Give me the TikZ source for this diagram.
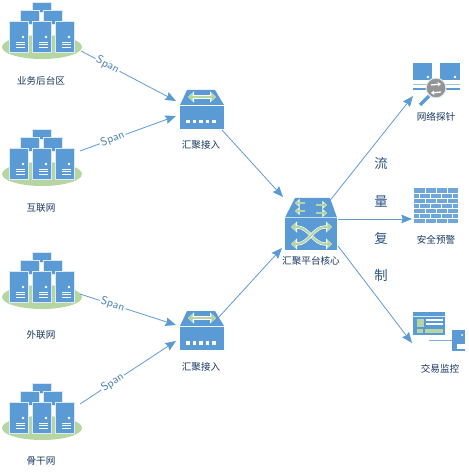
\documentclass[tikz,border=0pt]{standalone}
\usepackage{fontspec}
\usetikzlibrary{arrows.meta}
\newfontfamily\cjk{Noto Sans CJK SC}
\definecolor{bl}{HTML}{5B9BD5}
\definecolor{gr}{HTML}{B5D6A0}
\definecolor{tx}{HTML}{17375E}
\definecolor{pale}{HTML}{DCE9F6}
\tikzset{
  x=0.75pt,y=-0.75pt,
  lab/.style={font=\cjk\fontsize{7.2pt}{8pt}\selectfont,text=tx,inner sep=0pt},
  vlab/.style={font=\cjk\fontsize{10pt}{12pt}\selectfont,text=tx!70!bl,inner sep=0pt},
  span/.style={font=\sffamily\fontsize{8.6pt}{10pt}\selectfont,text=bl!85!black,fill=white,inner sep=1pt},
  link/.style={draw=bl,line width=0.6pt,-{Stealth[length=8pt,width=6.5pt,inset=1pt]}},
  srv/.style={fill=bl,draw=pale,line width=0.5pt},
  wl/.style={draw=white,line width=0.6pt},
  grarrow/.style={
    preaction={draw=white,line width=2.4pt,{Triangle[length=4.5pt,width=8pt]}-{Triangle[length=4.5pt,width=8pt]}},
    draw=gr,line width=1.5pt,{Triangle[length=3.5pt,width=6pt]}-{Triangle[length=3.5pt,width=6pt]}},
  grarrowone/.style={
    preaction={draw=white,line width=2pt,-{Triangle[length=3.5pt,width=6pt]}},
    draw=gr,line width=1.2pt,-{Triangle[length=2.5pt,width=4.5pt]}},
  serverbox/.pic={
    \path[srv] (0,0) rectangle (19,31);
    \fill[white] (14,16) circle (1.3);
    \foreach \yy in {21,23.5,26}{\draw[wl] (7,\yy) -- (16,\yy);}
  },
  cluster/.pic={
    \fill[gr] (42,47) ellipse (40 and 12);
    \path[srv] (32,2) rectangle (51,12);
    \path[srv] (20,10) rectangle (39,24);
    \path[srv] (43,10) rectangle (62,24);
    \pic at (9,21) {serverbox};
    \pic at (32,21) {serverbox};
    \pic at (55,21) {serverbox};
  },
  aggbox/.pic={
    \fill[bl] (8,0) -- (36,0) -- (45,15) -- (1,15) -- cycle;
    \fill[bl] (1,15.7) rectangle (45,39);
    \draw[grarrow] (9,7) -- (37,7);
    \foreach \xx in {7,13.5,20,26.5,33}{\fill[white] (\xx,30) rectangle +(3.5,3.5);}
  },
  corebox/.pic={
    \fill[bl] (10,0) -- (45,0) -- (52,19.5) -- (0,19.5) -- cycle;
    \fill[bl] (0,20.5) rectangle (52,52);
    \draw[grarrowone] (20,5) -- (10,5);
    \draw[grarrowone] (31,7) -- (42,7);
    \draw[grarrowone] (20,13) -- (10,13);
    \draw[grarrowone] (31,15) -- (42,15);
    \draw[grarrow] (6,29) -- (12,29) .. controls (24,29) and (28,46) .. (40,46) -- (47,46);
    \draw[grarrow] (6,46) -- (12,46) .. controls (24,46) and (28,29) .. (40,29) -- (47,29);
  },
}
\begin{document}
\begin{tikzpicture}
\useasboundingbox (0,0) rectangle (468,473);
\pic at (0,0) {cluster};
\pic at (0,127) {cluster};
\pic at (0,250) {cluster};
\pic at (0,381) {cluster};
\pic at (179,90) {aggbox};
\pic at (179,311) {aggbox};
\pic at (285,198) {corebox};
% probe
\fill[bl] (413,63) rectangle (432,90);
\fill[bl] (440,63) rectangle (460,90);
\fill[white] (428,77) circle (1.3);
\fill[white] (455,77) circle (1.3);
\fill[white] (413,80) rectangle (432,88);
\fill[white] (440,80) rectangle (460,88);
\draw[bl!60!white,line width=0.6pt] (413,84) -- (460,84);
\draw[bl,line width=2.4pt] (420,105) -- (429,96);
\fill[black!42] (436,88) circle (9.5);
\draw[pale,line width=0.8pt] (436,88) circle (10);
\draw[white,line width=1pt,-{Stealth[length=2.5pt,width=3.5pt]}] (431,85) -- (441,84);
\draw[white,line width=1pt,-{Stealth[length=2.5pt,width=3.5pt]}] (441,92) -- (431,93);
% firewall
\fill[bl!88!white] (414,188) rectangle (458,223);
\foreach \yy in {193,198,203,208,213,218}{\draw[white,line width=0.6pt] (414,\yy) -- (458,\yy);}
\foreach \xx in {425,436,447}{
  \foreach \yy in {188,198,208,218}{\draw[white,line width=0.6pt] (\xx,\yy) -- (\xx,\yy+5);}
}
\foreach \xx in {419,430,441,452}{
  \foreach \yy in {193,203,213}{\draw[white,line width=0.6pt] (\xx,\yy) -- (\xx,\yy+5);}
}
% monitor
\fill[bl] (413,312) rectangle (445,335);
\fill[gr] (417,319) rectangle (424,327);
\fill[white] (426,319) rectangle (443,321);
\fill[white] (426,323) rectangle (443,325);
\fill[gr] (417,329) rectangle (423,333);
\fill[gr] (425,329) rectangle (443,333);
\fill[pale] (413,315.5) rectangle (445,316.5);
\draw[bl!80!white,line width=0.6pt] (429,340) -- (452,340);
\fill[bl] (452,330) rectangle (465,351);
\fill[white] (457,344) rectangle (465,349);
\fill[white] (462,335) circle (1);
% anchors
\coordinate (c1) at (81,51);
\coordinate (c2) at (80,151);
\coordinate (c3) at (80,294);
\coordinate (c4) at (80,404);
\coordinate (a1in) at (176,101);
\coordinate (a1inb) at (176,116);
\coordinate (a2in) at (176,325);
\coordinate (a2inb) at (176,341);
\coordinate (a1out) at (222,130);
\coordinate (a2out) at (219,317);
\coordinate (coretop) at (283,197);
\coordinate (corebot) at (282,248);
\coordinate (coreo1) at (328,203);
\coordinate (coreo2) at (338,219);
\coordinate (coreo3) at (338,246);
\coordinate (probe) at (413,96);
\coordinate (fire) at (412,219);
\coordinate (mon) at (412,343);
\draw[link] (c1) -- node[span,sloped,pos=0.28] {Span} (a1in);
\draw[link] (c2) -- node[span,sloped,pos=0.34] {Span} (a1inb);
\draw[link] (c3) -- node[span,sloped,pos=0.34] {Span} (a2in);
\draw[link] (c4) -- node[span,sloped,pos=0.34] {Span} (a2inb);
\draw[link] (a1out) -- (coretop);
\draw[link] (a2out) -- (corebot);
\draw[link] (coreo1) -- (probe);
\draw[link] (coreo2) -- (fire);
\draw[link] (coreo3) -- (mon);
% labels
\node[lab] (l1) at (41,81) {业务后台区};
\node[lab] (l2) at (41,208) {互联网};
\node[lab] (l3) at (41,335) {外联网};
\node[lab] (l4) at (41,461) {骨干网};
\node[lab] (l5) at (201,145) {汇聚接入};
\node[lab] (l6) at (201,367) {汇聚接入};
\node[lab] (l7) at (311,261) {汇聚平台核心};
\node[lab] (l8) at (436,117) {网络探针};
\node[lab] (l9) at (436,240) {安全预警};
\node[lab] (l10) at (440,369) {交易监控};
\node[vlab] (v1) at (381,163) {流};
\node[vlab] (v2) at (381,201) {量};
\node[vlab] (v3) at (381,238) {复};
\node[vlab] (v4) at (381,275) {制};
\end{tikzpicture}
\end{document}
